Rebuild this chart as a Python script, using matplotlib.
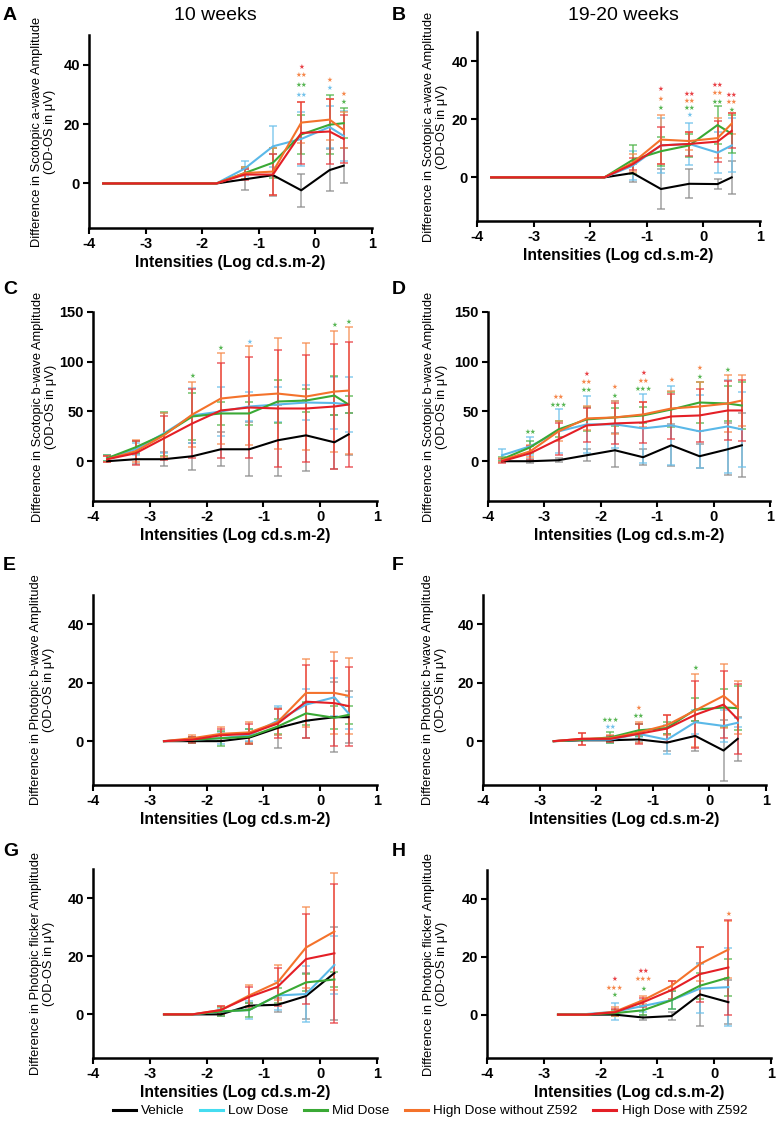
import matplotlib
matplotlib.use("Agg")
import matplotlib.pyplot as plt
from matplotlib.lines import Line2D
import numpy as np

plt.rcParams['font.family'] = ['Liberation Sans', 'DejaVu Sans']
plt.rcParams['axes.unicode_minus'] = False

groups = ["Vehicle", "Low Dose", "Mid Dose", "High Dose without Z592", "High Dose with Z592"]
line_colors = ["#000000", "#5ab8e8", "#3aa935", "#f4722b", "#e41f26"]
bar_colors = ["#8a8a8a", "#6cc0ea", "#4cb347", "#f68a4c", "#e8393e"]
legend_colors = ["#000000", "#45dcf0", "#3aa935", "#f4722b", "#e41f26"]

x_sa = [-3.75, -1.75, -1.25, -0.75, -0.25, 0.25, 0.5]
x_sb = [-3.75, -3.25, -2.75, -2.25, -1.75, -1.25, -0.75, -0.25, 0.25, 0.5]
x_pb = [-2.75, -2.25, -1.75, -1.25, -0.75, -0.25, 0.25, 0.5]
x_fl = [-2.75, -2.25, -1.75, -1.25, -0.75, -0.25, 0.25]

# Panel A: scotopic a-wave, 10 weeks
A_mean = [[0, 0, 1.4, 2.8, -2.3, 4.5, 6.0],
          [0, 0, 5.0, 12.5, 15.0, 19.0, 16.0],
          [0, 0, 3.5, 7.0, 16.5, 19.8, 20.3],
          [0, 0, 3.5, 4.0, 20.5, 21.5, 18.0],
          [0, 0, 3.0, 3.0, 17.0, 17.5, 15.0]]
A_sd = [[0, 0, 3.5, 7.0, 5.5, 7.0, 6.0],
        [0, 0, 2.5, 6.8, 9.0, 7.0, 8.5],
        [0, 0, 2.0, 5.0, 6.5, 10.0, 5.0],
        [0, 0, 2.0, 8.0, 7.0, 7.0, 6.0],
        [0, 0, 2.0, 7.0, 10.5, 11.0, 8.0]]
A_stars = [(-0.25, 39.3, 1, 4), (-0.25, 36.4, 2, 3), (-0.25, 33.2, 2, 2), (-0.25, 29.9, 2, 1),
           (0.25, 35.0, 1, 3), (0.25, 32.0, 1, 1),
           (0.5, 30.0, 1, 3), (0.5, 27.5, 1, 2)]

# Panel B: scotopic a-wave, 19-20 weeks
B_mean = [[0, 0, 1.5, -4.0, -2.2, -2.3, 0.0],
          [0, 0, 4.0, 11.0, 11.5, 8.5, 11.0],
          [0, 0, 6.0, 9.0, 11.0, 18.0, 15.0],
          [0, 0, 5.0, 13.0, 12.5, 13.5, 18.5],
          [0, 0, 4.5, 11.0, 11.5, 12.3, 16.0]]
B_sd = [[0, 0, 3.0, 7.0, 5.0, 1.8, 5.8],
        [0, 0, 5.0, 9.5, 7.2, 7.0, 9.3],
        [0, 0, 5.0, 5.0, 4.0, 6.5, 6.5],
        [0, 0, 3.0, 8.5, 3.0, 7.0, 3.5],
        [0, 0, 2.0, 6.5, 4.0, 7.0, 6.0]]
B_stars = [(-0.75, 30.5, 1, 4), (-0.75, 27.0, 1, 3), (-0.75, 23.8, 1, 2),
           (-0.25, 28.8, 2, 4), (-0.25, 26.3, 2, 3), (-0.25, 23.8, 2, 2), (-0.25, 21.3, 1, 1),
           (0.25, 31.7, 2, 4), (0.25, 28.9, 2, 3), (0.25, 26.1, 2, 2),
           (0.5, 28.3, 2, 4), (0.5, 25.8, 2, 3), (0.5, 23.3, 1, 2)]

# Panel C: scotopic b-wave, 10 weeks
C_mean = [[0, 2, 2, 5, 12, 12, 21, 26, 19, 27],
          [3, 12, 28, 46, 50, 55, 57, 59, 58.5, 57],
          [3, 14, 27, 45, 48, 48, 60, 61, 66, 57],
          [2, 10, 26, 47, 63, 66, 68, 65, 70, 71],
          [2, 8, 23, 38, 51, 54, 53, 53, 55, 57]]
C_sd = [[0, 5, 7, 13.5, 17, 27, 36, 36, 27, 21],
        [3, 6, 20, 28, 25, 15, 18, 18, 26, 28],
        [3, 6, 22, 24, 12, 12, 22, 12, 20, 9],
        [3, 11, 22, 33, 46, 50, 56, 54, 61, 64],
        [3, 12, 22, 35, 48, 51, 59, 54, 63, 63]]
C_stars = [(-2.25, 85.6, 1, 2), (-1.75, 114, 1, 2), (-1.25, 120, 1, 1),
           (0.25, 137, 1, 2), (0.5, 140, 1, 2)]

# Panel D: scotopic b-wave, 19-20 weeks
D_mean = [[0, 0, 1, 6, 11, 4, 16, 5, 12, 16],
          [6, 15, 30, 37, 37, 33, 36, 30, 35, 32],
          [2, 14, 32, 42, 44, 46, 52, 59, 58, 56],
          [1, 10, 30, 43, 44, 47, 53, 55, 58, 61],
          [0, 8, 22, 36, 38, 39, 45, 46, 51, 51]]
D_sd = [[0, 2, 2, 6, 17, 8, 21, 12, 26, 32],
        [6, 9, 22, 29, 24, 35, 40, 37, 47, 38],
        [2, 6, 8, 12, 9, 8, 18, 21, 18, 24],
        [2, 6, 10, 12, 17, 13, 18, 25, 29, 26],
        [2, 7, 16, 17, 21, 21, 23, 27, 30, 31]]
D_stars = [(-3.25, 29, 2, 2),
           (-2.75, 65, 2, 3), (-2.75, 57, 3, 2),
           (-2.25, 88, 1, 4), (-2.25, 80, 2, 3), (-2.25, 71.5, 2, 2),
           (-1.75, 74.5, 1, 3), (-1.75, 66, 1, 2),
           (-1.25, 89, 1, 4), (-1.25, 81, 2, 3), (-1.25, 73, 3, 2),
           (-0.75, 81.5, 1, 3),
           (-0.25, 94, 1, 3), (-0.25, 84.5, 1, 2),
           (0.25, 92, 1, 2)]

# Panel E: photopic b-wave, 10 weeks
E_mean = [[0, 0, 0, 1.2, 4.5, 7.0, 8.2, 8.2],
          [0, 0.5, 1.0, 2.0, 7.0, 12.5, 15.0, 9.5],
          [0, 0.5, 1.0, 1.5, 5.0, 9.5, 8.0, 9.0],
          [0, 1.0, 2.5, 3.0, 6.5, 16.5, 16.5, 15.5],
          [0, 0.5, 2.0, 2.5, 6.0, 13.5, 13.0, 12.0]]
E_sd = [[0, 0, 0, 1.5, 7.0, 6.0, 12.0, 9.0],
        [0, 1.0, 2.0, 2.0, 5.0, 5.5, 6.5, 5.5],
        [0, 1.0, 2.5, 2.5, 2.5, 4.0, 4.0, 3.0],
        [0, 1.0, 2.3, 3.5, 4.5, 11.5, 14.0, 13.0],
        [0, 1.0, 2.0, 3.5, 5.0, 12.5, 14.5, 13.5]]
E_stars = []

# Panel F: photopic b-wave, 19-20 weeks
F_mean = [[0, 0.3, 0.3, 0.6, -0.5, 1.8, -3.2, 0.8],
          [0, 0.5, 0.5, 2.5, 0.5, 6.5, 5.2, 6.3],
          [0, 0.5, 1.3, 3.7, 4.5, 10.8, 11.5, 11.3],
          [0, 0.8, 1.0, 3.0, 5.5, 10.5, 15.5, 11.5],
          [0, 0.8, 0.8, 2.5, 4.3, 9.0, 12.5, 7.5]]
F_sd = [[0, 0, 0.5, 1.0, 3.0, 5.0, 10.5, 7.5],
        [0, 0, 1.0, 1.0, 5.0, 4.0, 5.5, 1.5],
        [0, 0, 2.0, 2.0, 2.0, 4.0, 6.5, 7.5],
        [0, 2.0, 1.0, 3.5, 3.3, 12.5, 11.0, 9.0],
        [0, 2.0, 1.0, 3.5, 4.5, 11.5, 11.5, 12.0]]
F_stars = [(-1.75, 7.3, 3, 2), (-1.75, 4.7, 2, 1),
           (-1.25, 11.4, 1, 3), (-1.25, 8.6, 2, 2),
           (-0.25, 25.0, 1, 2)]

# Panel G: photopic flicker, 10 weeks
G_mean = [[0, 0, 0, 3.0, 3.3, 6.3, 14.2],
          [0, 0, 1.0, 1.5, 6.5, 7.0, 17.0],
          [0, 0, 1.0, 1.5, 6.5, 11.0, 12.0],
          [0, 0, 1.5, 6.5, 11.0, 23.0, 28.5],
          [0, 0, 1.5, 6.0, 9.5, 19.0, 21.0]]
G_sd = [[0, 0, 0.5, 1.0, 2.5, 8.0, 16.0],
        [0, 0, 1.0, 3.0, 5.0, 9.5, 10.0],
        [0, 0, 1.5, 2.5, 2.5, 3.0, 2.5],
        [0, 0, 1.5, 3.5, 6.0, 14.0, 20.0],
        [0, 0, 1.5, 3.5, 6.5, 15.5, 24.0]]
G_stars = []

# Panel H: photopic flicker, 19-20 weeks
H_mean = [[0, 0, 0, -1.0, -0.5, 7.0, 4.3],
          [0, 0.2, 1.0, 3.0, 5.0, 9.0, 9.5],
          [0, 0, 0.5, 1.5, 5.0, 10.0, 12.8],
          [0, 0, 1.0, 5.0, 10.0, 17.5, 22.5],
          [0, 0, 0.8, 4.3, 8.5, 14.0, 16.3]]
H_sd = [[0, 0, 0.5, 1.0, 1.5, 11.0, 7.5],
        [0, 0, 3.0, 2.0, 3.0, 8.5, 13.5],
        [0, 0, 1.0, 1.5, 3.0, 4.5, 6.5],
        [0, 0, 1.5, 1.5, 1.5, 6.0, 10.0],
        [0, 0, 1.0, 1.5, 3.0, 9.5, 16.5]]
H_stars = [(-1.75, 12.4, 1, 4), (-1.75, 9.3, 3, 3), (-1.75, 6.8, 1, 2),
           (-1.25, 15.0, 2, 4), (-1.25, 12.2, 3, 3), (-1.25, 8.8, 1, 2),
           (0.25, 34.7, 1, 3)]

ylabels = {
    "sa": "Difference in Scotopic a-wave Amplitude\n(OD-OS in \u03bcV)",
    "sb": "Difference in Scotopic b-wave Amplitude\n(OD-OS in \u03bcV)",
    "pb": "Difference in Photopic b-wave Amplitude\n(OD-OS in \u03bcV)",
    "fl": "Difference in Photopic flicker Amplitude\n(OD-OS in \u03bcV)",
}

W, H = 777, 1124
fig = plt.figure(figsize=(W / 100, H / 100), dpi=100)


def px_axes(l, t, r, b):
    return fig.add_axes([l / W, 1 - b / H, (r - l) / W, (b - t) / H])


panels = [
    ("A", (89, 35, 372, 228), x_sa, A_mean, A_sd, A_stars, "sa", (-15, 50), [0, 20, 40], 56),
    ("B", (477, 32, 760, 221), x_sa, B_mean, B_sd, B_stars, "sa", (-15, 50), [0, 20, 40], 448),
    ("C", (93, 312, 377, 501), x_sb, C_mean, C_sd, C_stars, "sb", (-40, 150), [0, 50, 100, 150], 57),
    ("D", (488, 312, 770, 501), x_sb, D_mean, D_sd, D_stars, "sb", (-40, 150), [0, 50, 100, 150], 448),
    ("E", (93, 595, 377, 785), x_pb, E_mean, E_sd, E_stars, "pb", (-15, 50), [0, 20, 40], 55),
    ("F", (483, 595, 766, 785), x_pb, F_mean, F_sd, F_stars, "pb", (-15, 50), [0, 20, 40], 447),
    ("G", (93, 869, 377, 1058), x_fl, G_mean, G_sd, G_stars, "fl", (-15, 50), [0, 20, 40], 55),
    ("H", (487, 870, 771, 1058), x_fl, H_mean, H_sd, H_stars, "fl", (-15, 50), [0, 20, 40], 448),
]

letter_pos = {"A": (3, 15), "B": (392, 15), "C": (3, 290), "D": (392, 290),
              "E": (3, 565), "F": (392, 565), "G": (3, 851), "H": (392, 851)}

for letter, box, xs, means, sds, stars, kind, ylim, yticks, ylab_x in panels:
    ax = px_axes(*box)
    xs = np.array(xs)
    for gi in range(5):
        m = np.array(means[gi], dtype=float)
        s = np.array(sds[gi], dtype=float)
        mask = s > 0
        ax.errorbar(xs[mask], m[mask], yerr=s[mask], fmt="none",
                    ecolor=bar_colors[gi], elinewidth=1.1, capsize=3.2,
                    capthick=1.1, alpha=0.8, zorder=2)
    for gi in range(5):
        ax.plot(xs, means[gi], color=line_colors[gi], lw=1.5, zorder=3 + gi * 0.1)
    for (sx, sy, n, gi) in stars:
        ax.text(sx, sy, "\u2605" * n, color=line_colors[gi], alpha=0.85,
                ha="center", va="center", fontsize=4.7, family="DejaVu Sans", zorder=5)
    ax.set_xlim(-4, 1)
    ax.set_ylim(*ylim)
    ax.set_xticks([-4, -3, -2, -1, 0, 1])
    ax.set_yticks(yticks)
    for sp in ["top", "right"]:
        ax.spines[sp].set_visible(False)
    for sp in ["left", "bottom"]:
        ax.spines[sp].set_linewidth(1.8)
    ax.tick_params(width=1.5, length=4.5, labelsize=10.5, pad=2)
    for lab in ax.get_xticklabels() + ax.get_yticklabels():
        lab.set_fontweight("bold")
    ax.set_xlabel("Intensities (Log cd.s.m-2)", fontsize=11.3, fontweight="bold", labelpad=3)
    ax.set_ylabel(ylabels[kind], fontsize=9.3, linespacing=1.1)
    ax.yaxis.set_label_coords((ylab_x - box[0]) / (box[2] - box[0]), 0.5)
    lx, ly = letter_pos[letter]
    fig.text(lx / W, 1 - ly / H, letter, fontsize=14, fontweight="bold", va="center", ha="left")

fig.text(215 / W, 1 - 16 / H, "10 weeks", fontsize=14, ha="center", va="center")
fig.text(623 / W, 1 - 16 / H, "19-20 weeks", fontsize=14, ha="center", va="center")

handles = [Line2D([0], [0], color=c, lw=2.2) for c in legend_colors]
fig.legend(handles, groups, loc="center", bbox_to_anchor=(430 / W, 1 - 1111 / H),
           ncol=5, frameon=False, fontsize=9.7, handlelength=1.7, handletextpad=0.4,
           columnspacing=1.15)

fig.savefig("out.png", dpi=100)
